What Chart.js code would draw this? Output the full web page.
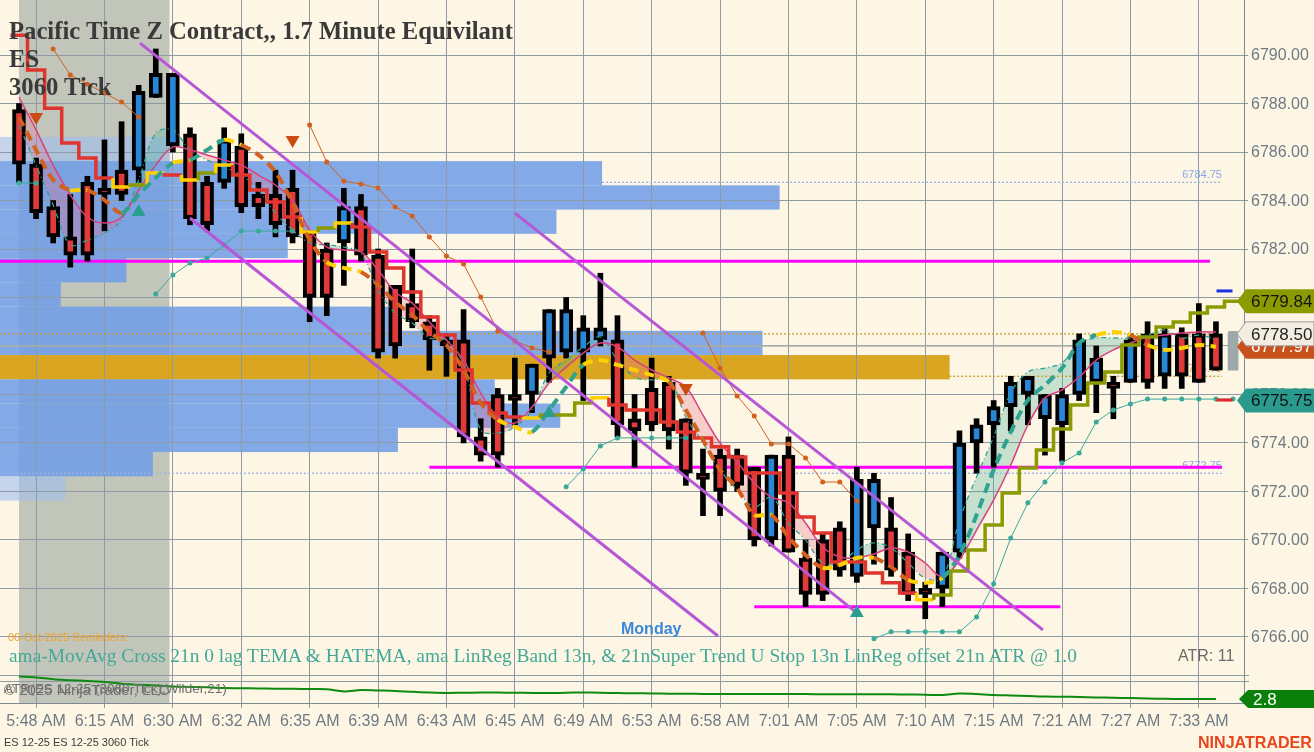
<!DOCTYPE html>
<html lang="en">
<head>
<meta charset="UTF-8">
<title>ES 12-25 3060 Tick</title>
<script src="https://cdn.jsdelivr.net/npm/chart.js"></script>
<style>
    body {
        margin: 0;
        background: #fdf6e4;
        font-family: Arial, "Liberation Sans", sans-serif;
    }
    #stage {
        position: relative;
        width: 1314px;
        height: 752px;
        overflow: hidden;
    }
    #priceCanvas { position: absolute; left: 0; top: 0; }
    #atrCanvas { position: absolute; left: 0; top: 675px; }
    .t {
        position: absolute;
        white-space: nowrap;
        line-height: 1;
        transform: translateY(-50%);
        pointer-events: none;
    }
    .serif { font-family: "Liberation Serif", "DejaVu Serif", serif; }
    .head { font-weight: bold; color: #3a3a3a; font-size: 24px; }
    #legendText { color: #43a898; font-size: 21px; }
    #reminder { color: #f0a02c; font-size: 11px; }
    #atrNote { color: #6b6b6b; font-size: 16px; }
    #monday { color: #3b87d9; font-size: 16px; font-weight: bold; }
    .panelName { color: #707070; font-size: 15px; }
    #footer { color: #3c3c3c; font-size: 11px; }
    #brand { color: #e8461e; font-size: 16px; font-weight: bold; }
</style>
</head>
<body>
<div id="stage">
    <canvas id="priceCanvas" width="1314" height="675"></canvas>
    <canvas id="atrCanvas" width="1314" height="62"></canvas>

    <div class="t serif head" id="title1" style="left:9px; top:31px;">Pacific Time Z Contract,, 1.7 Minute Equivilant</div>
    <div class="t serif head" id="title2" style="left:9px; top:59px;">ES</div>
    <div class="t serif head" id="title3" style="left:9px; top:87px;">3060 Tick</div>
    <div class="t" id="reminder" style="left:8px; top:637px;">06-Oct-2025 Reminders:</div>
    <div class="t serif" id="legendText" style="left:9px; top:656px;">ama-MovAvg Cross 21n 0 lag TEMA &amp; HATEMA, ama LinReg Band 13n, &amp; 21nSuper Trend U Stop 13n LinReg offset 21n ATR @ 1.0</div>
    <div class="t" id="atrNote" style="left:1178px; top:656px;">ATR: 11</div>
    <div class="t" id="monday" style="left:621px; top:629px;">Monday</div>
    <div class="t panelName" id="copyright" style="left:4px; top:689px;">© 2025 NinjaTrader, LLC</div>
    <div class="t panelName" id="atrName" style="left:4px; top:689px;">ATR(ES 12-25 (3060 Tick),Wilder,21)</div>
    <div class="t" id="footer" style="left:4px; top:742px;">ES 12-25 ES 12-25 3060 Tick</div>
    <div class="t" id="brand" style="left:1198px; top:742px;">NINJATRADER</div>
</div>

<script>
// ---- time axis ----
const timeLabels = ['5:48 AM', '6:15 AM', '6:30 AM', '6:32 AM', '6:35 AM', '6:39 AM', '6:43 AM', '6:45 AM', '6:49 AM',
    '6:53 AM', '6:58 AM', '7:01 AM', '7:05 AM', '7:10 AM', '7:15 AM', '7:21 AM', '7:27 AM', '7:33 AM'];
const labelBars = [1, 5, 9, 13, 17, 21, 25, 29, 33, 37, 41, 45, 49, 53, 57, 61, 65, 69];
const priceTicks = [6766, 6768, 6770, 6772, 6774, 6776, 6778, 6780, 6782, 6784, 6786, 6788, 6790];

// ---- 3060 tick bars ----
const opens = [6787.75, 6785.5, 6783.75, 6782.5, 6784.75, 6784.5, 6785.25, 6785.25, 6788.25, 6786.25,
    6786.75, 6784.75, 6784.75, 6786.25, 6784.25, 6784.25, 6784.5, 6782.75, 6782, 6782.25,
    6783.75, 6781.75, 6780.5, 6779.75, 6779, 6778.25, 6778.25, 6774.25, 6776, 6776,
    6776, 6777.5, 6777.75, 6777.75, 6778.25, 6778.25, 6775, 6776.25, 6776.5, 6775,
    6772.75, 6773.5, 6773.5, 6773, 6770, 6773.5, 6769.25, 6770, 6770.5, 6768.5,
    6770.5, 6770.5, 6769.5, 6768, 6768, 6769.5, 6774, 6774.75, 6775.5, 6776,
    6775, 6774.75, 6776, 6776.5, 6776.5, 6776.5, 6778.5, 6776.75, 6778.5, 6778.5,
    6778.5];
const highs = [6788, 6785.75, 6784, 6784.25, 6785, 6786.5, 6787.25, 6788.75, 6790.25, 6789.25,
    6787, 6785, 6787, 6786.75, 6784.75, 6785.25, 6785.25, 6782.75, 6782.25, 6784.5,
    6784.25, 6782, 6780.5, 6782, 6779.25, 6778.5, 6779.5, 6775, 6776.25, 6777.5,
    6777.25, 6779.5, 6780, 6779.25, 6781, 6779.25, 6776, 6777.5, 6776.75, 6775,
    6773.75, 6773.75, 6773.75, 6773, 6773.5, 6774.25, 6770, 6770.25, 6770.75, 6773,
    6772.75, 6771.75, 6770.25, 6768.25, 6769.5, 6774.5, 6775, 6775.75, 6776.75, 6776.75,
    6776, 6776.25, 6778.5, 6778, 6776.75, 6778.5, 6779, 6778.75, 6778.75, 6779.75,
    6779];
const lows = [6784.75, 6783.25, 6782.25, 6781.25, 6781.5, 6782.75, 6784, 6784.75, 6788.25, 6786,
    6783, 6782.75, 6784.5, 6783.5, 6783.25, 6782.5, 6782.25, 6779, 6779.25, 6780.5,
    6781.5, 6777.5, 6777.5, 6778.75, 6777, 6776.75, 6774, 6773.25, 6773, 6774.75,
    6775.25, 6776.5, 6777.5, 6775.75, 6778, 6774.25, 6773, 6774.5, 6773.75, 6772.25,
    6771, 6771, 6772, 6769.75, 6769.75, 6769.5, 6767.25, 6767.5, 6768.5, 6768.25,
    6769, 6768.5, 6767.5, 6766.75, 6767.25, 6769.25, 6772.75, 6773, 6774.5, 6774.75,
    6773.5, 6773.25, 6775.75, 6775.25, 6775, 6776.5, 6776.25, 6776.25, 6776.25, 6776.5,
    6777];
const closes = [6785.5, 6783.5, 6782.5, 6781.75, 6781.75, 6784.25, 6784.25, 6788.5, 6789.25, 6789.25,
    6783.25, 6783, 6786.5, 6783.75, 6783.75, 6783, 6782.5, 6780, 6780, 6783.75,
    6781.75, 6777.75, 6778, 6779, 6778.25, 6778, 6774.25, 6773.5, 6773.5, 6775.75,
    6777.25, 6779.5, 6779.5, 6778.75, 6778.75, 6774.75, 6774.5, 6774.75, 6774.5, 6772.75,
    6772.5, 6772, 6772.25, 6770, 6773.5, 6769.5, 6767.75, 6767.75, 6768.75, 6772.5,
    6772.5, 6768.75, 6767.75, 6767.75, 6769.5, 6774, 6774.75, 6775.5, 6776.5, 6776.75,
    6776, 6776, 6778.25, 6777.5, 6776.25, 6778.25, 6776.5, 6778.5, 6776.75, 6776.5,
    6777];

// ---- indicators ----
const temaValues = [6787.44, 6786.08, 6784.85, 6784.43, 6784.43, 6784.02, 6783.48, 6784.23, 6784.93, 6785.55,
    6785.67, 6786.08, 6786.50, 6786.29, 6785.88, 6785.18, 6783.90, 6782.37, 6781.46, 6781.22,
    6781.05, 6780.52, 6779.81, 6779.28, 6778.58, 6778.04, 6777.01, 6775.65, 6774.95, 6774.66,
    6774.45, 6775.36, 6776.31, 6777.22, 6777.42, 6777.22, 6777.01, 6776.80, 6776.52, 6775.36,
    6774.12, 6772.89, 6772.14, 6771.03, 6771.03, 6770.12, 6769.38, 6768.85, 6768.97, 6769.26,
    6769.26, 6768.89, 6768.35, 6768.23, 6768.43, 6769.38, 6771.03, 6772.89, 6774.45, 6775.77,
    6776.39, 6777.09, 6778.12, 6778.45, 6778.58, 6778.45, 6778.04, 6777.84, 6777.92, 6778.04,
    6777.97];
const linRegValues = [6788.27, 6786.91, 6785.46, 6784.23, 6783.32, 6783.07, 6783.32, 6784.43, 6785.46, 6786.21,
    6786.08, 6785.88, 6785.67, 6785.46, 6785.05, 6784.64, 6784.02, 6782.78, 6782.08, 6781.96,
    6781.88, 6781.13, 6780.23, 6779.77, 6778.99, 6778.25, 6777.42, 6776.06, 6775.07, 6774.82,
    6775.48, 6776.47, 6777.13, 6777.71, 6778.12, 6777.96, 6777.42, 6777.01, 6776.68, 6776.31,
    6775.15, 6774.00, 6773.22, 6772.35, 6771.77, 6771.53, 6770.70, 6769.71, 6769.30, 6769.26,
    6769.42, 6769.67, 6769.51, 6769.05, 6768.47, 6769.18, 6770.41, 6771.65, 6773.09, 6774.74,
    6775.86, 6776.19, 6776.72, 6777.42, 6777.84, 6778.12, 6778.37, 6778.45, 6778.54, 6778.58,
    6778.58];
const bandValues = [6787.11, 6785.46, 6783.81, 6782.17, 6782.37, 6782.66, 6783.20, 6784.85, 6786.78, 6786.91,
    6786.08, 6785.67, 6785.38, 6785.05, 6784.43, 6783.48, 6782.78, 6782.25, 6782.17, 6782.08,
    6781.84, 6780.31, 6779.36, 6778.95, 6778.33, 6778.25, 6777.22, 6774.54, 6774.41, 6774.66,
    6775.36, 6776.89, 6777.42, 6777.96, 6778.37, 6777.42, 6776.72, 6776.60, 6776.68, 6775.07,
    6774.00, 6772.89, 6772.06, 6771.36, 6771.77, 6770.70, 6770.00, 6769.05, 6769.05, 6769.59,
    6769.88, 6769.67, 6769.05, 6768.43, 6768.43, 6770.82, 6772.60, 6774.25, 6776.06, 6776.93,
    6777.09, 6777.30, 6778.12, 6778.33, 6778.33, 6778.33, 6778.45, 6778.66, 6778.33, 6778.45,
    6778.25];
// super trend stop, one value per bar plus the projected next bar
const stopValues = [6790.82, 6789.38, 6787.81, 6786.37, 6785.75, 6784.93, 6784.56, 6784.64, 6785.13, 6785.05,
    6784.85, 6785.13, 6785.46, 6785.05, 6784.43, 6783.94, 6783.32, 6782.70, 6782.87, 6783.07,
    6782.91, 6781.88, 6781.22, 6780.23, 6779.20, 6778.45, 6777.01, 6775.65, 6775.24, 6775.07,
    6775.03, 6775.15, 6775.15, 6775.65, 6775.86, 6775.57, 6775.36, 6775.36, 6774.87, 6774.45,
    6774.21, 6773.84, 6773.42, 6772.76, 6772.76, 6771.94, 6770.95, 6770.29, 6769.09, 6769.09,
    6768.64, 6768.23, 6767.81, 6767.53, 6767.73, 6768.72, 6769.59, 6770.62, 6771.94, 6772.97,
    6773.71, 6774.58, 6775.57, 6776.47, 6776.93, 6778.04, 6778.37, 6778.78, 6778.99, 6779.36,
    6779.61, 6779.84];
const upStopValues = [6784.72, 6784.72, null, null, null, null, null, null, 6780.14, 6780.93,
    6781.42, 6781.63, 6782.17, 6782.74, 6782.74, 6782.74, 6782.74, null, null, null,
    null, null, null, null, null, null, null, null, null, null,
    null, null, 6772.19, 6772.93, 6773.88, 6774.21, 6774.21, 6774.21, 6774.21, 6774.21,
    null, null, null, null, null, null, null, null, null, null,
    6765.92, 6766.21, 6766.21, 6766.21, 6766.21, 6766.21, 6766.82, 6768.19, 6770.08, 6771.53,
    6772.39, 6773.18, 6773.59, 6774.87, 6775.36, 6775.61, 6775.81, 6775.81, 6775.81, 6775.81,
    6775.81, 6775.81];
const downStopValues = [null, null, 6790.25, 6789.18, 6788.80, 6788.43, 6788.06, 6787.44, null, null,
    null, null, null, null, null, null, null, 6787.11, 6785.59, 6784.80,
    6784.68, 6784.52, 6783.73, 6783.36, 6782.50, 6781.71, 6781.38, 6780.02, 6778.62, 6778.21,
    6777.92, 6777.75, null, null, null, null, null, null, null, null,
    6778.54, 6777.09, 6775.94, 6775.11, 6773.96, 6773.96, 6773.38, 6772.39, 6772.39, 6771.61,
    null, null, null, null, null, null, null, null, null, null,
    null, null, null, null, null, null, null, null, null, null,
    null];
const atrValues = [3.05, 3.04, 3.02, 3.01, 3.0, 2.99, 2.97, 2.96, 2.95, 2.94,
    2.935, 2.93, 2.922, 2.92, 2.918, 2.915, 2.913, 2.912, 2.91, 2.885,
    2.9, 2.895, 2.89, 2.88, 2.872, 2.867, 2.87, 2.872, 2.872, 2.87,
    2.868, 2.866, 2.87, 2.872, 2.87, 2.866, 2.864, 2.862, 2.86, 2.858,
    2.857, 2.856, 2.855, 2.855, 2.857, 2.856, 2.855, 2.854, 2.853, 2.852,
    2.852, 2.852, 2.85, 2.848, 2.844, 2.862, 2.855, 2.845, 2.84, 2.835,
    2.828, 2.826, 2.822, 2.818, 2.814, 2.811, 2.806, 2.802, 2.8, 2.8,
    2.8];

// signals
const sellBars = [1, 16, 39];
const sellPrices = [6787.44, 6786.50, 6776.27];
const buyBars = [7, 31, 49];
const buyPrices = [6783.53, 6775.24, 6766.99];

// drawn objects (bar index, price)
const channelFrom = [[7.08, 6790.49], [10.0, 6783.28], [29.0, 6783.48]];
const channelTo = [[49.0, 6766.99], [40.88, 6766.04], [59.88, 6766.29]];
const zonePrices = [6781.5, 6773.0, 6767.25];
const zoneFrom = [-1.11, 24.0, 43.0];
const zoneTo = [69.65, 70.35, 60.9];
const refPrices = [6784.75, 6772.75, 6778.5, 6776.75, 6778.0];
const refFrom = [34.1, -1.11, -1.11, 54.4, -1.11];
const refTo = [70.35, 70.35, 70.35, 70.35, 70.35];
const labeledRefs = [6784.75, 6772.75, 6776.75];

// volume profile rows (lowest price in each 1 point row, relative volume)
const profileLows = [6785.75, 6784.75, 6783.75, 6782.75, 6781.75, 6780.75, 6779.75, 6778.75,
    6777.75, 6776.75, 6775.75, 6774.75, 6773.75, 6772.75, 6771.75];
const profileVolumes = [17.9, 63.4, 82.1, 58.6, 30.3, 13.3, 6.4, 42.1, 80.3, 100, 52.1, 59.0, 41.9, 16.1, 6.9];
const pocLow = 6776.75;
const valueAreaLow = 6772.75;
const valueAreaHigh = 6784.75;

const sessionShade = [0, 8.8];
const forming = [6777.0, 6778.6];
const markPrices = [6780.27, 6775.77];
const tagValues = [6779.84, 6777.97, 6778.50, 6775.75];
const lastAtr = 2.8;

// ---- layout / style ----
const xMin = -1.11, xMax = 71.64;
const yMin = 6764.43, yMax = 6792.27;
const atrMin = 2.756, atrMax = 3.067;
const gridColor = '#8e9ba5';
const axisColor = '#7d8a94';
const labelColor = '#6f7a84';
const upColor = '#2a86d6';
const downColor = '#e23a3a';
const red = '#e0352f', olive = '#8a9a00', yellow = '#ffd000';
const teal = '#2fa292', orange = '#d2601e';
const tagFill = [olive, '#c9521c', '#f3eee1', '#2b9a8e'];
const tagInk = ['#141414', '#ffffff', '#222222', '#111111'];
const tagEdge = [null, null, '#9a9a9a', null];
const refColors = ['#9ab5e6', '#9ab5e6', '#c99a2e', '#c99a2e', 'rgba(175,175,170,0.7)'];
const refDash = [[2, 2], [2, 2], [2, 2], [2, 2], []];
const refLabelColors = ['#8aa8e8', '#8aa8e8', '#c9a24a'];
const axisFont = '16px Arial, "Liberation Sans", sans-serif';

Chart.defaults.font.family = 'Arial, "Liberation Sans", sans-serif';

// direction of the stop: rising = long, falling = short, flat keeps the previous
const stopDir = [];
stopValues.forEach((v, i) => {
    if (i === 0) stopDir.push(-1);
    else if (v > stopValues[i - 1]) stopDir.push(1);
    else if (v < stopValues[i - 1]) stopDir.push(-1);
    else stopDir.push(stopDir[i - 1]);
});
function stopColor(k) {
    if (k + 1 < stopDir.length && stopDir[k + 1] !== stopDir[k]) return yellow;
    return stopDir[k] > 0 ? olive : red;
}
function temaColor(ctx) {
    const d = ctx.p1.parsed.y - ctx.p0.parsed.y;
    if (d > 0.3) return teal;
    if (d < -0.3) return orange;
    return yellow;
}

// session shading + volume profile behind everything
const backdrop = {
    id: 'backdrop',
    beforeDraw(chart) {
        const { ctx, chartArea: a, scales } = chart;
        const x = scales.x;
        ctx.save();
        ctx.beginPath();
        ctx.rect(a.left, a.top, a.width, a.height);
        ctx.clip();
        const s0 = x.getPixelForValue(sessionShade[0]);
        const s1 = x.getPixelForValue(sessionShade[1]);
        ctx.fillStyle = '#c2c6ba';
        ctx.fillRect(s0, a.top, s1 - s0, a.height);
        if (chart.canvas.id === 'priceCanvas') {
            const y = scales.y;
            profileLows.forEach((low, r) => {
                const top = y.getPixelForValue(low + 0.875);
                const bot = y.getPixelForValue(low - 0.125);
                const w = profileVolumes[r] / 131 * a.width;
                if (low === pocLow) ctx.fillStyle = 'rgb(218,165,32)';
                else if (low >= valueAreaLow && low <= valueAreaHigh) ctx.fillStyle = 'rgba(110,155,232,0.85)';
                else ctx.fillStyle = 'rgba(160,190,240,0.6)';
                ctx.fillRect(a.left, top, w, bot - top);
            });
        }
        ctx.restore();
    }
};

const refLabels = {
    id: 'refLabels',
    beforeDatasetsDraw(chart) {
        const { ctx, scales: { x, y } } = chart;
        ctx.save();
        ctx.font = '11px Arial, "Liberation Sans", sans-serif';
        ctx.textAlign = 'right';
        ctx.textBaseline = 'bottom';
        labeledRefs.forEach((p, k) => {
            ctx.fillStyle = refLabelColors[k];
            ctx.fillText(p.toFixed(2), x.getPixelForValue(refTo[0]), y.getPixelForValue(p) - 2);
        });
        ctx.restore();
    }
};

// price labels of the right axis, placed by the y scale (keeps the plot full height)
const priceLabels = {
    id: 'priceLabels',
    afterDraw(chart) {
        const { ctx } = chart;
        const y = chart.scales.y;
        ctx.save();
        ctx.font = axisFont;
        ctx.fillStyle = labelColor;
        ctx.textAlign = 'left';
        ctx.textBaseline = 'middle';
        priceTicks.forEach(v => ctx.fillText(v.toFixed(2), y.left + 7, y.getPixelForValue(v) + 1));
        ctx.restore();
    }
};

function drawTag(ctx, x0, yc, right, text, fill, ink, edge, h) {
    ctx.beginPath();
    ctx.moveTo(x0, yc);
    ctx.lineTo(x0 + 9, yc - h / 2);
    ctx.lineTo(right, yc - h / 2);
    ctx.lineTo(right, yc + h / 2);
    ctx.lineTo(x0 + 9, yc + h / 2);
    ctx.closePath();
    ctx.fillStyle = fill;
    ctx.fill();
    if (edge) { ctx.strokeStyle = edge; ctx.lineWidth = 1; ctx.stroke(); }
    ctx.fillStyle = ink;
    ctx.font = '17px Arial, "Liberation Sans", sans-serif';
    ctx.textAlign = 'left';
    ctx.textBaseline = 'middle';
    ctx.fillText(text, x0 + 14, yc + 1);
}

const priceTags = {
    id: 'priceTags',
    afterDraw(chart) {
        const { ctx } = chart;
        const y = chart.scales.y;
        ctx.save();
        tagValues.forEach((v, k) => {
            drawTag(ctx, y.left - 7, y.getPixelForValue(v), chart.width, v.toFixed(2), tagFill[k], tagInk[k], tagEdge[k], 24);
        });
        ctx.restore();
    }
};

const atrTag = {
    id: 'atrTag',
    afterDraw(chart) {
        const { ctx } = chart;
        const y = chart.scales.y;
        ctx.save();
        drawTag(ctx, y.left - 5, y.getPixelForValue(lastAtr), chart.width, lastAtr.toFixed(1), '#0a800a', '#ffffff', null, 18);
        ctx.restore();
    }
};

function segmentLine(from, to, color, width, dash, order) {
    return {
        type: 'line',
        data: [{ x: from[0], y: from[1] }, { x: to[0], y: to[1] }],
        borderColor: color,
        borderWidth: width,
        borderDash: dash || [],
        pointRadius: 0,
        order: order
    };
}

const datasets = [
    {   // 0 LinReg
        type: 'line',
        data: linRegValues.map((v, i) => ({ x: i, y: v })),
        borderColor: '#d9407f',
        borderWidth: 1.5,
        pointRadius: 0,
        tension: 0.35,
        order: 3
    },
    {   // 1 band, filled against the LinReg line
        type: 'line',
        data: bandValues.map((v, i) => ({ x: i, y: v })),
        borderColor: '#2fa292',
        borderWidth: 1.3,
        borderDash: [5, 3, 1, 3],
        pointRadius: 0,
        tension: 0.35,
        fill: { target: 0, above: 'rgba(64,170,150,0.28)', below: 'rgba(228,110,140,0.30)' },
        order: 3
    },
    {   // 2 wicks
        type: 'bar',
        data: highs.map((h, i) => ({ x: i, y: [lows[i], h] })),
        backgroundColor: '#000000',
        barThickness: 5,
        grouped: false,
        order: 6
    },
    {   // 3 bodies
        type: 'bar',
        data: opens.map((o, i) => ({ x: i, y: [Math.min(o, closes[i]), Math.max(o, closes[i])] })),
        backgroundColor: ctx => closes[ctx.dataIndex] >= opens[ctx.dataIndex] ? upColor : downColor,
        borderColor: '#000000',
        borderWidth: 4,
        borderSkipped: false,
        barThickness: 13,
        grouped: false,
        order: 5
    },
    {   // forming bar
        type: 'bar',
        data: [{ x: opens.length, y: forming }],
        backgroundColor: '#9ea7a9',
        barThickness: 10,
        borderRadius: 2,
        grouped: false,
        order: 5
    },
    {   // TEMA
        type: 'line',
        data: temaValues.map((v, i) => ({ x: i, y: v })),
        borderWidth: 4,
        borderDash: [10, 6],
        pointRadius: 0,
        tension: 0.3,
        segment: { borderColor: temaColor },
        borderColor: orange,
        order: 2
    },
    {   // super trend stop
        type: 'line',
        data: [{ x: -0.5, y: stopValues[0] }].concat(stopValues.map((v, i) => ({ x: i + 0.5, y: v }))),
        borderWidth: 3.5,
        pointRadius: 0,
        stepped: 'after',
        borderColor: red,
        segment: { borderColor: ctx => stopColor(ctx.p1DataIndex - 1) },
        order: 2
    },
    {   // long stop
        type: 'line',
        data: upStopValues.map((v, i) => ({ x: i, y: v })),
        borderColor: '#3aa99a',
        backgroundColor: '#3aa99a',
        borderWidth: 1,
        pointRadius: 2.5,
        pointBorderWidth: 0,
        order: 3
    },
    {   // short stop
        type: 'line',
        data: downStopValues.map((v, i) => ({ x: i, y: v })),
        borderColor: '#d2601e',
        backgroundColor: '#d2601e',
        borderWidth: 1,
        pointRadius: 2.5,
        pointBorderWidth: 0,
        order: 3
    },
    {   // sell signals
        type: 'scatter',
        data: sellBars.map((b, k) => ({ x: b, y: sellPrices[k] })),
        pointStyle: 'triangle',
        rotation: 180,
        radius: 8,
        backgroundColor: '#cc4a14',
        borderWidth: 0,
        order: 0
    },
    {   // buy signals
        type: 'scatter',
        data: buyBars.map((b, k) => ({ x: b, y: buyPrices[k] })),
        pointStyle: 'triangle',
        radius: 8,
        backgroundColor: '#2a9d8f',
        borderWidth: 0,
        order: 0
    },
    {   // price marks at the right edge
        type: 'scatter',
        data: markPrices.map(p => ({ x: opens.length - 0.5, y: p })),
        pointStyle: 'line',
        radius: 8,
        borderWidth: 3,
        borderColor: ['#1a2ee6', '#e8262a'],
        order: 0
    }
];

zonePrices.forEach((p, k) => {
    datasets.push(segmentLine([zoneFrom[k], p], [zoneTo[k], p], '#ff00ff', 3, null, 9));
});
refPrices.forEach((p, k) => {
    datasets.push(segmentLine([refFrom[k], p], [refTo[k], p], refColors[k], k === 4 ? 2 : 1.3, refDash[k], 9));
});
channelFrom.forEach((a, k) => {
    datasets.push(segmentLine(a, channelTo[k], '#b557d6', 3, null, 1));
});

const xAxis = {
    type: 'linear',
    min: xMin,
    max: xMax,
    offset: false,
    afterBuildTicks: s => { s.ticks = labelBars.map(v => ({ value: v })); }
};

new Chart(document.getElementById('priceCanvas'), {
    type: 'line',
    data: { datasets: datasets },
    options: {
        responsive: false,
        animation: false,
        events: [],
        layout: { padding: 0, autoPadding: false },
        plugins: {
            legend: { display: false },
            tooltip: { enabled: false },
            filler: { drawTime: 'beforeDatasetsDraw' }
        },
        scales: {
            x: Object.assign({}, xAxis, {
                afterFit: s => { s.height = 0; },
                ticks: { display: false },
                grid: { color: gridColor, drawTicks: false, offset: false },
                border: { display: false }
            }),
            y: {
                position: 'right',
                min: yMin,
                max: yMax,
                afterBuildTicks: s => { s.ticks = priceTicks.map(v => ({ value: v })); },
                afterFit: s => { s.width = 70; },
                ticks: { display: false },
                grid: { color: gridColor, tickLength: 4 },
                border: { color: axisColor }
            }
        }
    },
    plugins: [backdrop, refLabels, priceLabels, priceTags]
});

new Chart(document.getElementById('atrCanvas'), {
    type: 'line',
    data: {
        datasets: [{
            data: atrValues.map((v, i) => ({ x: i, y: v })),
            borderColor: '#0f8a10',
            borderWidth: 2,
            pointRadius: 0,
            tension: 0.3
        }]
    },
    options: {
        responsive: false,
        animation: false,
        events: [],
        layout: { padding: 0, autoPadding: false },
        plugins: { legend: { display: false }, tooltip: { enabled: false } },
        scales: {
            x: Object.assign({}, xAxis, {
                afterFit: s => { s.height = 34; },
                ticks: {
                    callback: v => timeLabels[labelBars.indexOf(v)],
                    color: labelColor,
                    font: { size: 16 },
                    padding: 4,
                    maxRotation: 0,
                    autoSkip: false
                },
                grid: { color: gridColor, tickLength: 5 },
                border: { color: axisColor }
            }),
            y: {
                position: 'right',
                min: atrMin,
                max: atrMax,
                afterBuildTicks: s => { s.ticks = [{ value: 3.0 }, { value: atrMax }]; },
                afterFit: s => { s.width = 70; },
                ticks: { display: false },
                grid: { color: gridColor, tickLength: 5 },
                border: { color: axisColor }
            }
        }
    },
    plugins: [backdrop, atrTag]
});

// stretch the serif texts to the width they have on the original chart
function fitWidth(id, px) {
    const el = document.getElementById(id);
    const size = parseFloat(getComputedStyle(el).fontSize);
    el.style.fontSize = (size * px / el.getBoundingClientRect().width) + 'px';
}
fitWidth('title1', 504);
const headSize = getComputedStyle(document.getElementById('title1')).fontSize;
document.getElementById('title2').style.fontSize = headSize;
document.getElementById('title3').style.fontSize = headSize;
fitWidth('legendText', 1069);
fitWidth('atrName', 223);
fitWidth('brand', 114);
</script>
</body>
</html>
